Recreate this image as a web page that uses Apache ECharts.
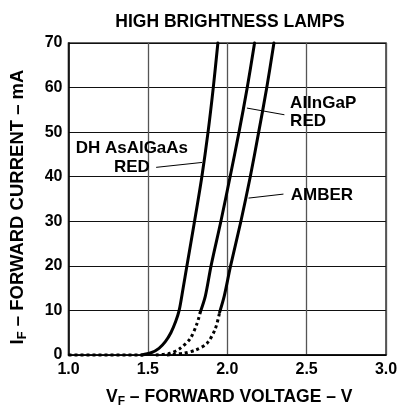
<!DOCTYPE html>
<html>
<head>
<meta charset="utf-8">
<script src="https://cdn.jsdelivr.net/npm/echarts@6/dist/echarts.min.js"></script>
<style>
html,body{margin:0;padding:0;background:#fff;}
#chart{width:401px;height:413px;}
</style>
</head>
<body>
<div id="chart"></div>
<script>
// ---- data (forward voltage V, forward current mA) ----
const xTicks = [1.0, 1.5, 2.0, 2.5, 3.0];
const yTicks = [0, 10, 20, 30, 40, 50, 60, 70];

const baselineV = [1.00, 1.47];
const baselineI = [0, 0];

const dhRedV = [1.46, 1.52, 1.57, 1.61, 1.645, 1.675, 1.697, 1.722, 1.746, 1.794, 1.840, 1.879, 1.912, 1.941];
const dhRedI = [0, 0.5, 1.5, 3.0, 5.0, 7.5, 10, 15, 20, 30, 40, 50, 60, 70];

const alingapDotV = [1.55, 1.64, 1.704, 1.767, 1.809, 1.830];
const alingapDotI = [0, 0.4, 1.5, 3.7, 7.0, 9.6];
const alingapV = [1.830, 1.862, 1.898, 1.960, 2.018, 2.074, 2.126, 2.172];
const alingapI = [9.6, 13.2, 20, 30, 40, 50, 60, 70];

const amberDotV = [1.62, 1.725, 1.80, 1.872, 1.925, 1.952];
const amberDotI = [0, 0.4, 1.1, 2.6, 5.9, 9.6];
const amberV = [1.952, 1.981, 2.021, 2.086, 2.145, 2.198, 2.249, 2.294];
const amberI = [9.6, 13.2, 20, 30, 40, 50, 60, 70];

// annotation labels: text, anchor (V, mA)
const labelTexts = ['DH AsAlGaAs\nRED', 'AlInGaP\nRED', 'AMBER'];
const labelAnchorV = [1.399, 2.396, 2.40];
const labelAnchorI = [44.2, 54.5, 35.8];
// leader lines: from (V,mA) to (V,mA)
const leaderFromV = [1.552, 2.360, 2.354];
const leaderFromI = [42.1, 53.9, 36.1];
const leaderToV = [1.841, 2.124, 2.134];
const leaderToI = [43.2, 55.4, 35.2];

const FONT = '"Liberation Sans", Arial, Helvetica, sans-serif';
const zip = (a, b) => a.map((v, i) => [v, b[i]]);

const solid = { color: '#000', width: 3, type: 'solid', cap: 'round', join: 'round' };
const dotted = { color: '#000', width: 3, type: [3, 3], cap: 'butt' };

function lineSeries(v, i, style, smooth) {
  return {
    type: 'line', data: zip(v, i), symbol: 'none', smooth: smooth,
    lineStyle: style, clip: false, silent: true, z: 5
  };
}

const chart = echarts.init(document.getElementById('chart'), null, { renderer: 'canvas' });

const option = {
  animation: false,
  backgroundColor: '#fff',
  title: {
    text: 'HIGH BRIGHTNESS LAMPS',
    left: 225, top: 8, textAlign: 'center',
    textStyle: { fontFamily: FONT, fontSize: 17.5, fontWeight: 'bold', color: '#000' }
  },
  grid: {
    left: 68, right: 15, top: 43, bottom: 53,
    show: true, borderColor: '#333', borderWidth: 1.5, backgroundColor: 'transparent'
  },
  xAxis: {
    type: 'value', min: xTicks[0], max: xTicks[xTicks.length - 1], interval: 0.5,
    axisLine: { show: true, lineStyle: { color: '#000', width: 1.5 } },
    axisTick: { show: false },
    axisLabel: {
      margin: 7, fontFamily: FONT, fontSize: 16, fontWeight: 'bold', color: '#000',
      formatter: v => v.toFixed(1)
    },
    splitLine: { show: true, lineStyle: { color: '#555', width: 1.3 } },
    name: '{m|V}{s|F}{m| – FORWARD VOLTAGE – V}',
    nameLocation: 'middle', nameGap: 31,
    nameTextStyle: {
      padding: [0, 0, 0, 4],
      rich: {
        m: { fontFamily: FONT, fontSize: 17.5, fontWeight: 'bold', color: '#000', lineHeight: 22 },
        s: { fontFamily: FONT, fontSize: 12, fontWeight: 'bold', color: '#000', verticalAlign: 'bottom', lineHeight: 22 }
      }
    }
  },
  yAxis: {
    type: 'value', min: yTicks[0], max: yTicks[yTicks.length - 1], interval: 10,
    axisLine: { show: true, lineStyle: { color: '#000', width: 1.5 } },
    axisTick: { show: false },
    axisLabel: { margin: 6, fontFamily: FONT, fontSize: 16, fontWeight: 'bold', color: '#000' },
    splitLine: { show: true, lineStyle: { color: '#111', width: 1 } },
    name: '{m|I}{s|F}{m| – FORWARD CURRENT – mA}',
    nameLocation: 'middle', nameGap: 40,
    nameTextStyle: {
      padding: [0, 16, 0, 0],
      rich: {
        m: { fontFamily: FONT, fontSize: 18.5, fontWeight: 'bold', color: '#000', lineHeight: 22 },
        s: { fontFamily: FONT, fontSize: 13, fontWeight: 'bold', color: '#000', verticalAlign: 'bottom', lineHeight: 22 }
      }
    }
  },
  series: [
    lineSeries(baselineV, baselineI, dotted, false),
    lineSeries(dhRedV, dhRedI, solid, 0.3),
    lineSeries(alingapDotV, alingapDotI, dotted, 0.3),
    lineSeries(alingapV, alingapI, solid, 0.3),
    lineSeries(amberDotV, amberDotI, dotted, 0.3),
    lineSeries(amberV, amberI, solid, 0.3),
    {
      type: 'line', data: [], symbol: 'none', silent: true,
      markLine: {
        silent: true, symbol: 'none', animation: false,
        lineStyle: { color: '#000', width: 1, type: 'solid', opacity: 1 },
        label: { show: false },
        data: leaderFromV.map((v, k) => [
          { coord: [v, leaderFromI[k]] },
          { coord: [leaderToV[k], leaderToI[k]] }
        ])
      }
    },
    {
      type: 'scatter', symbolSize: 0, silent: true, z: 6,
      itemStyle: { opacity: 1, color: '#000' },
      data: labelTexts.map((t, k) => ({
        value: [labelAnchorV[k], labelAnchorI[k]],
        label: {
          show: true, formatter: t,
          position: k === 0 ? 'inside' : 'right',
          distance: 0,
          align: k === 0 ? 'center' : 'left',
          verticalAlign: 'middle',
          fontFamily: FONT, fontSize: 17, fontWeight: 'bold', color: '#000',
          textBorderWidth: 0, textBorderColor: 'transparent', opacity: 1,
          lineHeight: 18.5
        }
      }))
    }
  ]
};
chart.setOption(option);
</script>
</body>
</html>
